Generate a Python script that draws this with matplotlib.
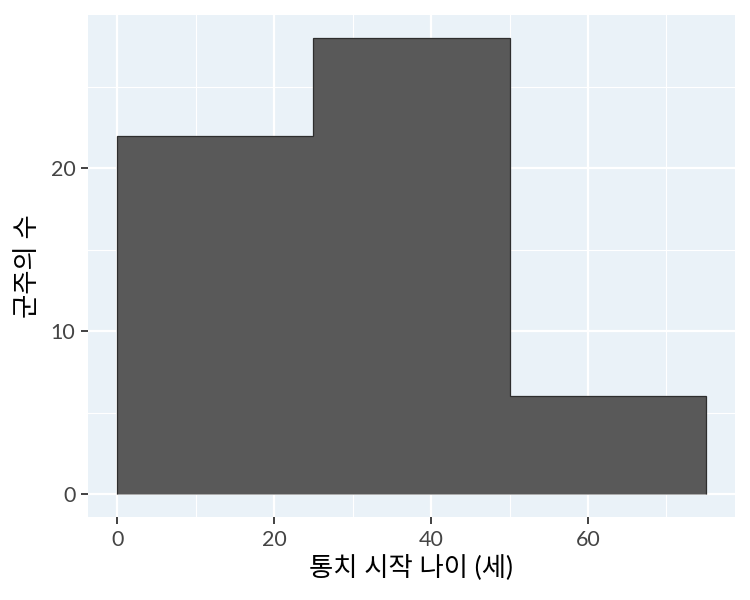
import matplotlib.pyplot as plt

plt.rcParams['font.family'] = ['Lato', 'Noto Sans CJK KR', 'DejaVu Sans']

# histogram bins (age at accession) and counts
bin_edges = [0, 25, 50, 75]
counts = [22, 28, 6]
x_ticks = [0, 20, 40, 60]
x_minor = [10, 30, 50, 70]
y_ticks = [0, 10, 20]
y_minor = [5, 15, 25]

fig = plt.figure(figsize=(7.5, 6), dpi=100)
ax = fig.add_axes([0.1173, 0.1383, 0.8627, 0.8367])
ax.set_facecolor('#EAF2F8')

# one outline around the whole histogram, no lines between the bins
ax.stairs(counts, bin_edges, baseline=0, fill=True,
          facecolor='#595959', edgecolor='#2E2E2E', linewidth=0.9, zorder=3)

ax.set_xlim(-3.75, 78.75)
ax.set_ylim(-1.4, 29.4)
ax.set_xticks(x_ticks)
ax.set_yticks(y_ticks)
ax.set_xticks(x_minor, minor=True)
ax.set_yticks(y_minor, minor=True)
ax.grid(which='major', color='white', linewidth=1.6, zorder=0)
ax.grid(which='minor', color='white', linewidth=0.8, zorder=0)
ax.set_axisbelow(True)
for s in ax.spines.values():
    s.set_visible(False)
ax.tick_params(which='major', length=5, width=1.3, color='#333333',
               labelsize=15.5, labelcolor='#444444', pad=4)
ax.tick_params(which='minor', length=0)

ax.set_xlabel('통치 시작 나이 (세)', fontsize=19, color='black', labelpad=3)
ax.set_ylabel('군주의 수', fontsize=19, color='black', labelpad=8)

fig.savefig('out.png', dpi=100)
